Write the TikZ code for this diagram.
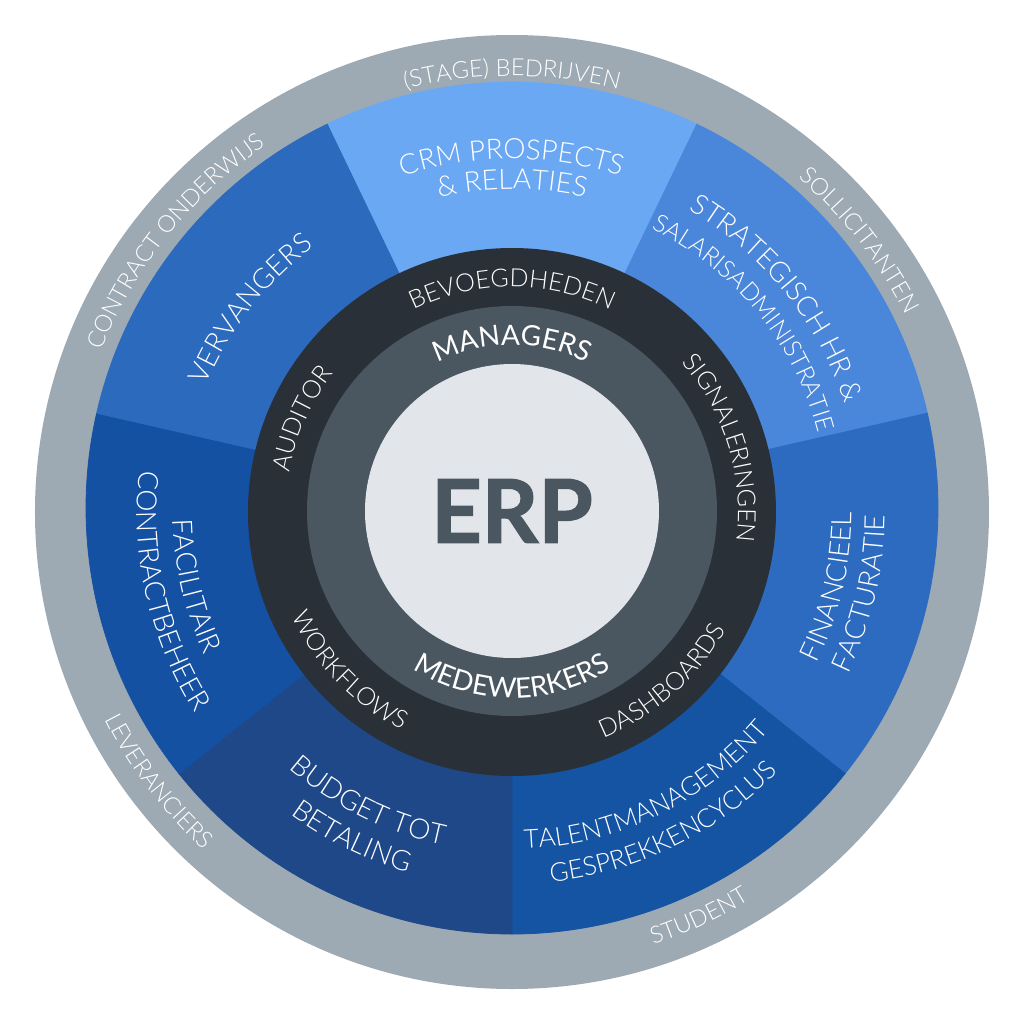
\documentclass[tikz,border=0pt]{standalone}
\usepackage{fontspec}
\usetikzlibrary{decorations.text}
\newfontfamily\lightf{Lato Light}
\newfontfamily\regf{Lato}
\newfontfamily\erpf{Lato Bold}[FakeBold=1.5]
\definecolor{ringgray}{HTML}{9DA9B3}
\definecolor{crmc}{HTML}{6BA8F3}
\definecolor{stratc}{HTML}{4A87DA}
\definecolor{finc}{HTML}{2C6BBF}
\definecolor{talc}{HTML}{1553A3}
\definecolor{budc}{HTML}{1F4889}
\definecolor{facc}{HTML}{1551A2}
\definecolor{verc}{HTML}{2B6ABD}
\definecolor{darkc}{HTML}{2A3037}
\definecolor{midc}{HTML}{4A5660}
\definecolor{lightc}{HTML}{E2E6EA}
\definecolor{erpc}{HTML}{4A5660}
\newcommand{\cwlabel}[4]{\path[decorate,decoration={text along path,text align=center,text color=white,text={|#3|#4}}] ({#1+60}:#2) arc[start angle={#1+60},end angle={#1-60},radius=#2];}
\newcommand{\ccwlabel}[4]{\path[decorate,decoration={text along path,text align=center,text color=white,text={|#3|#4}}] ({#1-60}:#2) arc[start angle={#1-60},end angle={#1+60},radius=#2];}
\newcommand{\gfont}{\lightf\fontsize{11.8}{11.8}\selectfont}
\newcommand{\sfont}{\lightf\fontsize{14}{14}\selectfont}
\newcommand{\tfont}{\lightf\fontsize{13}{13}\selectfont}
\newcommand{\ssfont}{\lightf\fontsize{12.2}{12.2}\selectfont}
\newcommand{\dfont}{\lightf\fontsize{12.5}{12.5}\selectfont}
\newcommand{\mfont}{\regf\fontsize{14}{14}\selectfont}
\tikzset{slice/.style={line width=0.4pt}}
\begin{document}
\begin{tikzpicture}[x=0.5pt,y=0.5pt]
\useasboundingbox (-512,-512) rectangle (512,512);
% outer gray ring
\fill[ringgray] (0,0) circle[radius=477];
% blue segments
\def\cy{4}
\filldraw[slice,fill=crmc,draw=crmc] (0,\cy) -- ++(64.29:426) arc[start angle=64.29,end angle=115.71,radius=426] -- cycle;
\filldraw[slice,fill=stratc,draw=stratc] (0,\cy) -- ++(12.86:426) arc[start angle=12.86,end angle=64.29,radius=426] -- cycle;
\filldraw[slice,fill=finc,draw=finc] (0,\cy) -- ++(-38.57:426) arc[start angle=-38.57,end angle=12.86,radius=426] -- cycle;
\filldraw[slice,fill=talc,draw=talc] (0,\cy) -- ++(-90:426) arc[start angle=-90,end angle=-38.57,radius=426] -- cycle;
\filldraw[slice,fill=budc,draw=budc] (0,\cy) -- ++(-141.43:426) arc[start angle=-141.43,end angle=-90,radius=426] -- cycle;
\filldraw[slice,fill=facc,draw=facc] (0,\cy) -- ++(167.14:426) arc[start angle=167.14,end angle=218.57,radius=426] -- cycle;
\filldraw[slice,fill=verc,draw=verc] (0,\cy) -- ++(115.71:426) arc[start angle=115.71,end angle=167.14,radius=426] -- cycle;
% inner rings
\fill[darkc] (0,0) circle[radius=264];
\fill[midc] (0,1) circle[radius=205];
\fill[lightc] (0,1) circle[radius=147];
\node[font=\erpf\fontsize{44}{44}\selectfont,text=erpc,inner sep=0pt] (erp) at (0,1) {ERP};
% gray ring labels
\cwlabel{90}{436}{\gfont}{(STAGE) BEDRIJVEN}
\cwlabel{38}{440}{\gfont}{SOLLICITANTEN}
\cwlabel{141.2}{441}{\gfont}{CONTRACT ONDERWIJS}
\ccwlabel{217.3}{457}{\gfont}{LEVERANCIERS}
\ccwlabel{-65.2}{455}{\gfont}{STUDENT}
% segment labels
\cwlabel{90}{353}{\sfont}{CRM PROSPECTS}
\cwlabel{90}{323}{\sfont}{{\&} RELATIES}
\cwlabel{38.9}{350}{\sfont}{STRATEGISCH HR {\&}}
\cwlabel{39.2}{316}{\ssfont}{SALARISADMINISTRATIE}
\ccwlabel{-13.2}{340}{\sfont}{FINANCIEEL}
\ccwlabel{-13.1}{373}{\sfont}{FACTURATIE}
\ccwlabel{-64.1}{337}{\tfont}{TALENTMANAGEMENT}
\ccwlabel{-64.1}{372}{\tfont}{GESPREKKENCYCLUS}
\ccwlabel{-116.4}{340}{\sfont}{BUDGET TOT}
\ccwlabel{-116.2}{375}{\sfont}{BETALING}
\ccwlabel{193.1}{339}{\sfont}{FACILITAIR}
\ccwlabel{193}{375}{\sfont}{CONTRACTBEHEER}
\cwlabel{142.2}{331}{\sfont}{VERVANGERS}
% dark ring labels
\cwlabel{90}{225}{\dfont}{BEVOEGDHEDEN}
\cwlabel{17}{226}{\dfont}{SIGNALERINGEN}
\cwlabel{156}{226}{\dfont}{AUDITOR}
\ccwlabel{224.3}{244}{\dfont}{WORKFLOWS}
\ccwlabel{-48.4}{244}{\dfont}{DASHBOARDS}
% mid ring labels
\cwlabel{90}{167}{\mfont}{MANAGERS}
\ccwlabel{-90}{186}{\mfont}{MEDEWERKERS}
\end{tikzpicture}
\end{document}
